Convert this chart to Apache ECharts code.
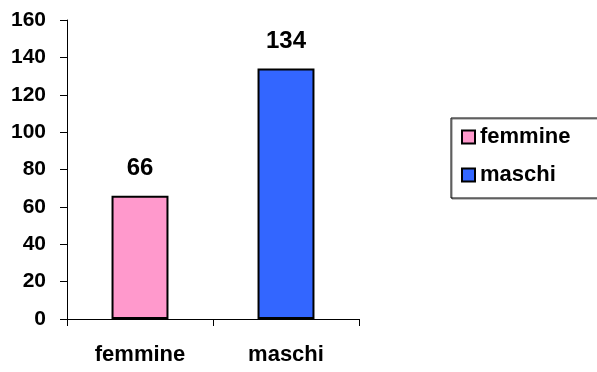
<!DOCTYPE html>
<html><head><meta charset="utf-8">
<script src="https://cdn.jsdelivr.net/npm/echarts@6/dist/echarts.min.js"></script>
<style>html,body{margin:0;padding:0;background:#fff}#c{width:597px;height:372px}</style>
</head><body><div id="c"></div>
<script>
var categories = ['femmine', 'maschi'];
var femmineValues = [66, '-'];
var maschiValues = ['-', 134];
var yTicks = [0, 20, 40, 60, 80, 100, 120, 140, 160];

var font = 'Liberation Sans, Arial, sans-serif';
var chart = echarts.init(document.getElementById('c'), null, {renderer: 'canvas'});
var labelCfg = {show: true, position: 'top', distance: 15, color: '#000', fontWeight: 'bold', fontSize: 24, fontFamily: font};
chart.setOption({
  animation: false,
  backgroundColor: '#fff',
  grid: {left: 67, top: 20, right: 238, bottom: 53, containLabel: false},
  legend: {
    orient: 'vertical', left: 451, top: 118,
    padding: [8, 60, 12, 10], itemGap: 16, itemWidth: 13, itemHeight: 13,
    borderColor: '#000', borderWidth: 1,
    shadowColor: 'rgba(0,0,0,0.5)', shadowOffsetX: 1, shadowOffsetY: 1, shadowBlur: 0,
    icon: 'rect',
    textStyle: {color: '#000', fontWeight: 'bold', fontSize: 22, fontFamily: font},
    data: ['femmine', 'maschi']
  },
  xAxis: {
    type: 'category', data: categories,
    axisLine: {lineStyle: {color: '#000', width: 1}},
    axisTick: {show: true, length: 7, lineStyle: {color: '#000'}},
    axisLabel: {color: '#000', fontWeight: 'bold', fontSize: 22, fontFamily: font, margin: 25}
  },
  yAxis: {
    type: 'value', min: yTicks[0], max: yTicks[yTicks.length - 1], interval: 20,
    axisLine: {show: true, lineStyle: {color: '#000', width: 1}},
    axisTick: {show: true, length: 7, lineStyle: {color: '#000'}},
    splitLine: {show: false},
    axisLabel: {color: '#000', fontWeight: 'bold', fontSize: 21, fontFamily: font, margin: 21}
  },
  series: [
    {name: 'femmine', type: 'bar', stack: 's', data: femmineValues, barWidth: '39%',
     itemStyle: {color: '#FF99CC', borderColor: '#000', borderWidth: 2}, label: labelCfg},
    {name: 'maschi', type: 'bar', stack: 's', data: maschiValues, barWidth: '39%',
     itemStyle: {color: '#3366FF', borderColor: '#000', borderWidth: 2}, label: labelCfg}
  ]
});
</script></body></html>
